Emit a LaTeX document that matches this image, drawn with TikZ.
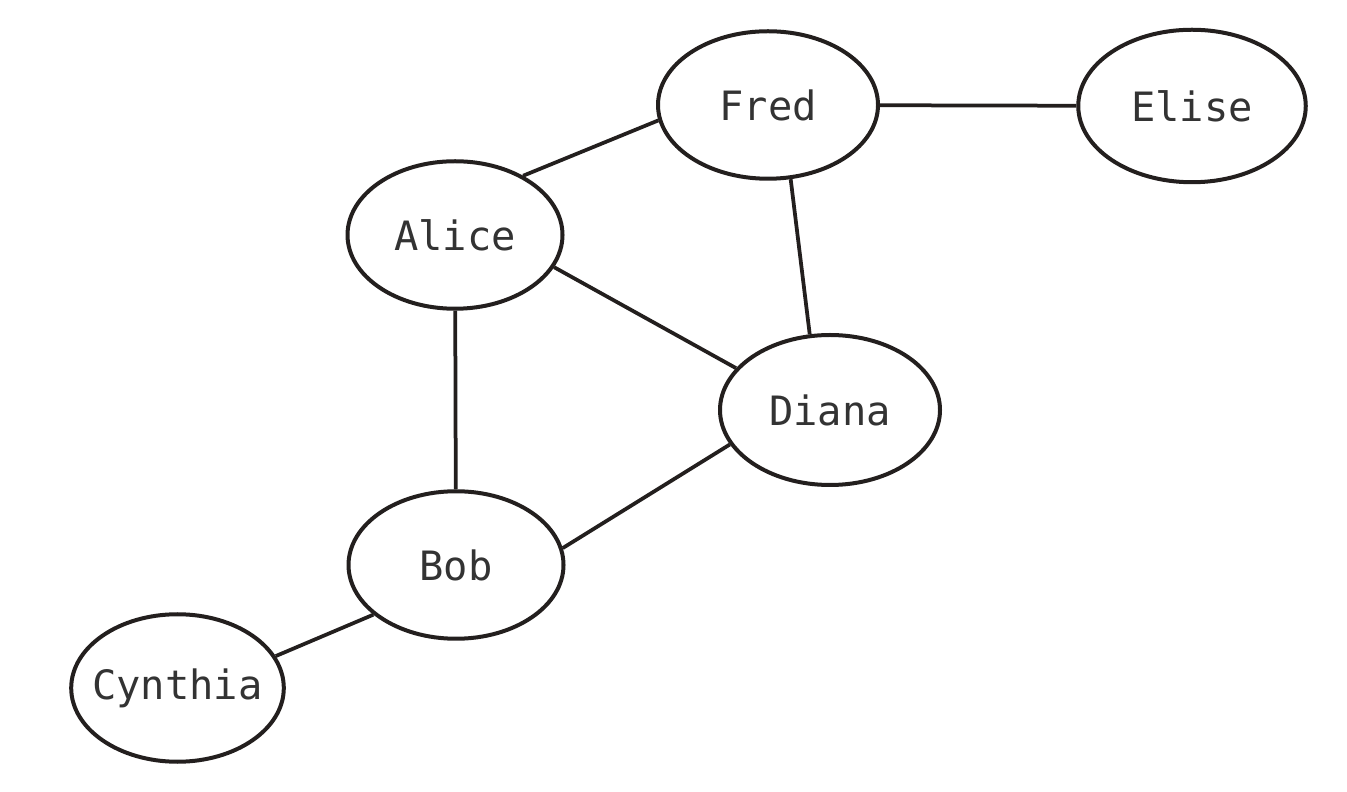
\documentclass[tikz,border=0pt]{standalone}
\usepackage{fontspec}
\setmonofont{DejaVu Sans Mono}
\usetikzlibrary{shapes.geometric}
\definecolor{inkline}{HTML}{231F1E}
\definecolor{inktext}{HTML}{333333}
\tikzset{
  person/.style={ellipse, draw=inkline, line width=0.08cm, inner sep=0pt,
    minimum width=4.3cm, minimum height=2.95cm, text=inktext,
    font=\ttfamily\fontsize{23}{26}\selectfont},
  link/.style={draw=inkline, line width=0.075cm}
}
\begin{document}
\begin{tikzpicture}
\useasboundingbox (0,0) rectangle (26.94,15.82);

\node[person, minimum width=4.4cm] (fred) at (15.36,13.72) {Fred};
\node[person, minimum width=4.55cm, minimum height=3.05cm] (elise) at (23.84,13.70) {Elise};
\node[person] (alice) at (9.10,11.12) {Alice};
\node[person, minimum width=4.4cm, minimum height=3.0cm] (diana) at (16.60,7.62) {Diana};
\node[person] (bob) at (9.12,4.52) {Bob};
\node[person, minimum width=4.15cm, inner xsep=-0.2cm] (cynthia) at (3.55,2.06) {Cynthia};

\draw[link] (alice.41) -- (fred.188);
\draw[link] (fred) -- (elise);
\draw[link] (fred.-73) -- (diana.105);
\draw[link] (alice.-18) -- (diana.156);
\draw[link] (alice) -- (bob);
\draw[link] (bob.9) -- (diana.199);
\draw[link] (bob.211) -- (cynthia.18);
\end{tikzpicture}
\end{document}
